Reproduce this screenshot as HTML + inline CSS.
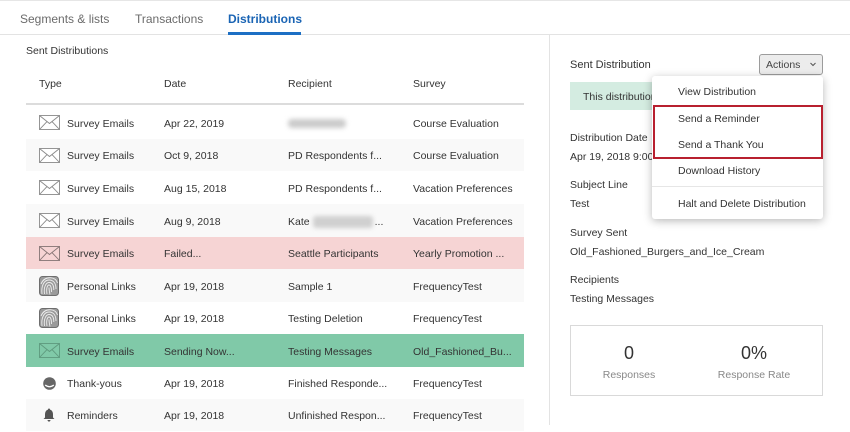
<!DOCTYPE html>
<html>
<head>
<meta charset="utf-8">
<style>
  html,body{margin:0;padding:0;}
  body{width:850px;height:425px;overflow:hidden;background:#fff;position:relative;font-family:"Liberation Sans",Arial,sans-serif;color:#333;font-size:10.5px;}
  .a{position:absolute;white-space:nowrap;}
  .tab{position:absolute;top:11px;height:16px;line-height:16px;font-size:12px;color:#6b6b6b;}
  .row{position:absolute;left:26px;width:498px;}
  .row .c{position:absolute;top:1px;height:100%;display:flex;align-items:center;white-space:nowrap;}
  .row .ic{position:absolute;top:0;height:100%;display:flex;align-items:center;left:11px;width:24px;justify-content:center;}
  .g{background:#f9f9f9;}
  .lbl{position:absolute;left:570px;height:14px;line-height:14px;white-space:nowrap;}
  .dd{position:absolute;left:678px;height:14px;line-height:14px;white-space:nowrap;color:#333;}
</style>
</head>
<body>
<div class="a" style="left:0;top:0;width:850px;height:1px;background:#e6e6e6;"></div>

<div class="tab" style="left:20px;">Segments &amp; lists</div>
<div class="tab" style="left:135px;">Transactions</div>
<div class="tab" style="left:228px;color:#1a64b4;font-weight:bold;">Distributions</div>
<div class="a" style="left:0;top:34px;width:850px;height:1px;background:#e3e3e3;"></div>
<div class="a" style="left:228px;top:32px;width:73px;height:3px;background:#1c6fc4;"></div>

<div class="a" style="left:26px;top:44px;height:14px;line-height:14px;">Sent Distributions</div>
<div class="a" style="left:39px;top:77px;height:14px;line-height:14px;">Type</div>
<div class="a" style="left:164px;top:77px;height:14px;line-height:14px;">Date</div>
<div class="a" style="left:288px;top:77px;height:14px;line-height:14px;">Recipient</div>
<div class="a" style="left:413px;top:77px;height:14px;line-height:14px;">Survey</div>
<div class="a" style="left:26px;top:103px;width:498px;height:2px;background:#dcdcdc;"></div>

<div class="row" style="top:106px;height:33px;">
  <div class="ic"><svg width="21" height="15" viewBox="0 0 21 15"><rect x="0.5" y="0.5" width="20" height="14" fill="#fff" stroke="#8a8a8a" stroke-width="0.9"/><polyline points="0.5,0.5 10.5,8.5 20.5,0.5" fill="none" stroke="#8a8a8a" stroke-width="0.9"/><line x1="0.5" y1="14.5" x2="8" y2="6.6" stroke="#8a8a8a" stroke-width="0.9"/><line x1="20.5" y1="14.5" x2="13" y2="6.6" stroke="#8a8a8a" stroke-width="0.9"/></svg></div>
  <div class="c" style="left:41px;">Survey Emails</div>
  <div class="c" style="left:138px;">Apr 22, 2019</div>
  <div class="c" style="left:262px;"><span style="display:inline-block;width:58px;height:9px;background:#cbcbcb;filter:blur(2.5px);border-radius:4px;"></span></div>
  <div class="c" style="left:387px;">Course Evaluation</div>
</div>
<div class="row g" style="top:139px;height:32px;">
  <div class="ic"><svg width="21" height="15" viewBox="0 0 21 15"><rect x="0.5" y="0.5" width="20" height="14" fill="#fff" stroke="#8a8a8a" stroke-width="0.9"/><polyline points="0.5,0.5 10.5,8.5 20.5,0.5" fill="none" stroke="#8a8a8a" stroke-width="0.9"/><line x1="0.5" y1="14.5" x2="8" y2="6.6" stroke="#8a8a8a" stroke-width="0.9"/><line x1="20.5" y1="14.5" x2="13" y2="6.6" stroke="#8a8a8a" stroke-width="0.9"/></svg></div>
  <div class="c" style="left:41px;">Survey Emails</div>
  <div class="c" style="left:138px;">Oct 9, 2018</div>
  <div class="c" style="left:262px;">PD Respondents f...</div>
  <div class="c" style="left:387px;">Course Evaluation</div>
</div>
<div class="row" style="top:171px;height:33px;">
  <div class="ic"><svg width="21" height="15" viewBox="0 0 21 15"><rect x="0.5" y="0.5" width="20" height="14" fill="#fff" stroke="#8a8a8a" stroke-width="0.9"/><polyline points="0.5,0.5 10.5,8.5 20.5,0.5" fill="none" stroke="#8a8a8a" stroke-width="0.9"/><line x1="0.5" y1="14.5" x2="8" y2="6.6" stroke="#8a8a8a" stroke-width="0.9"/><line x1="20.5" y1="14.5" x2="13" y2="6.6" stroke="#8a8a8a" stroke-width="0.9"/></svg></div>
  <div class="c" style="left:41px;">Survey Emails</div>
  <div class="c" style="left:138px;">Aug 15, 2018</div>
  <div class="c" style="left:262px;">PD Respondents f...</div>
  <div class="c" style="left:387px;">Vacation Preferences</div>
</div>
<div class="row g" style="top:204px;height:33px;">
  <div class="ic"><svg width="21" height="15" viewBox="0 0 21 15"><rect x="0.5" y="0.5" width="20" height="14" fill="#fff" stroke="#8a8a8a" stroke-width="0.9"/><polyline points="0.5,0.5 10.5,8.5 20.5,0.5" fill="none" stroke="#8a8a8a" stroke-width="0.9"/><line x1="0.5" y1="14.5" x2="8" y2="6.6" stroke="#8a8a8a" stroke-width="0.9"/><line x1="20.5" y1="14.5" x2="13" y2="6.6" stroke="#8a8a8a" stroke-width="0.9"/></svg></div>
  <div class="c" style="left:41px;">Survey Emails</div>
  <div class="c" style="left:138px;">Aug 9, 2018</div>
  <div class="c" style="left:262px;">Kate<span style="display:inline-block;width:60px;height:12px;background:#d0d0d0;filter:blur(2px);margin:0 2px 0 3px;border-radius:3px;"></span>...</div>
  <div class="c" style="left:387px;">Vacation Preferences</div>
</div>
<div class="row" style="top:237px;height:32px;background:#f6d4d4;">
  <div class="ic"><svg width="21" height="15" viewBox="0 0 21 15"><rect x="0.5" y="0.5" width="20" height="14" fill="none" stroke="#867575" stroke-width="0.9"/><polyline points="0.5,0.5 10.5,8.5 20.5,0.5" fill="none" stroke="#867575" stroke-width="0.9"/><line x1="0.5" y1="14.5" x2="8" y2="6.6" stroke="#867575" stroke-width="0.9"/><line x1="20.5" y1="14.5" x2="13" y2="6.6" stroke="#867575" stroke-width="0.9"/></svg></div>
  <div class="c" style="left:41px;">Survey Emails</div>
  <div class="c" style="left:138px;">Failed...</div>
  <div class="c" style="left:262px;">Seattle Participants</div>
  <div class="c" style="left:387px;">Yearly Promotion ...</div>
</div>
<div class="row g" style="top:269px;height:33px;">
  <div class="ic"><svg width="20" height="20" viewBox="0 0 20 20"><rect x="0.5" y="0.5" width="19" height="19" rx="3" fill="#9a9a9a" stroke="#6e6e6e"/><g fill="none" stroke="#eee" stroke-width="0.9"><path d="M3,18 C2,10 5,4 10,4 C15,4 17,8 17,13"/><path d="M5.5,18 C4.5,11 7,6.5 10,6.5 C13,6.5 14.8,9 14.8,14"/><path d="M8,18 C7,12 8.5,9 10,9 C11.5,9 12.5,11 12.5,16"/><path d="M10,11.5 C10,14 10.5,16 11,18.5"/><path d="M2,8 C4,3 8,1.5 12,1.8 C15,2 17.5,4 18.5,7"/></g></svg></div>
  <div class="c" style="left:41px;">Personal Links</div>
  <div class="c" style="left:138px;">Apr 19, 2018</div>
  <div class="c" style="left:262px;">Sample 1</div>
  <div class="c" style="left:387px;">FrequencyTest</div>
</div>
<div class="row" style="top:302px;height:32px;">
  <div class="ic"><svg width="20" height="20" viewBox="0 0 20 20"><rect x="0.5" y="0.5" width="19" height="19" rx="3" fill="#9a9a9a" stroke="#6e6e6e"/><g fill="none" stroke="#eee" stroke-width="0.9"><path d="M3,18 C2,10 5,4 10,4 C15,4 17,8 17,13"/><path d="M5.5,18 C4.5,11 7,6.5 10,6.5 C13,6.5 14.8,9 14.8,14"/><path d="M8,18 C7,12 8.5,9 10,9 C11.5,9 12.5,11 12.5,16"/><path d="M10,11.5 C10,14 10.5,16 11,18.5"/><path d="M2,8 C4,3 8,1.5 12,1.8 C15,2 17.5,4 18.5,7"/></g></svg></div>
  <div class="c" style="left:41px;">Personal Links</div>
  <div class="c" style="left:138px;">Apr 19, 2018</div>
  <div class="c" style="left:262px;">Testing Deletion</div>
  <div class="c" style="left:387px;">FrequencyTest</div>
</div>
<div class="row" style="top:334px;height:33px;background:#80c9a8;">
  <div class="ic"><svg width="21" height="15" viewBox="0 0 21 15"><rect x="0.5" y="0.5" width="20" height="14" fill="none" stroke="#5e9a7e" stroke-width="0.9"/><polyline points="0.5,0.5 10.5,8.5 20.5,0.5" fill="none" stroke="#5e9a7e" stroke-width="0.9"/><line x1="0.5" y1="14.5" x2="8" y2="6.6" stroke="#5e9a7e" stroke-width="0.9"/><line x1="20.5" y1="14.5" x2="13" y2="6.6" stroke="#5e9a7e" stroke-width="0.9"/></svg></div>
  <div class="c" style="left:41px;">Survey Emails</div>
  <div class="c" style="left:138px;">Sending Now...</div>
  <div class="c" style="left:262px;">Testing Messages</div>
  <div class="c" style="left:387px;">Old_Fashioned_Bu...</div>
</div>
<div class="row" style="top:367px;height:32px;">
  <div class="ic"><svg width="13" height="13" viewBox="0 0 13 13"><circle cx="6.5" cy="6.5" r="6.3" fill="#666"/><path d="M2.2,8 Q6.5,11.5 10.8,8" fill="none" stroke="#fff" stroke-width="1.3"/></svg></div>
  <div class="c" style="left:41px;">Thank-yous</div>
  <div class="c" style="left:138px;">Apr 19, 2018</div>
  <div class="c" style="left:262px;">Finished Responde...</div>
  <div class="c" style="left:387px;">FrequencyTest</div>
</div>
<div class="row g" style="top:399px;height:32px;">
  <div class="ic"><svg width="12" height="14" viewBox="0 0 12 14"><path d="M6,0.5 C6.8,0.5 7,1 7,1.6 C9,2.2 10,4 10,6.5 L10,9.5 L11.5,11 L0.5,11 L2,9.5 L2,6.5 C2,4 3,2.2 5,1.6 C5,1 5.2,0.5 6,0.5 Z" fill="#555"/><path d="M4.5,12 L7.5,12 C7.5,13 6.8,13.6 6,13.6 C5.2,13.6 4.5,13 4.5,12 Z" fill="#555"/></svg></div>
  <div class="c" style="left:41px;">Reminders</div>
  <div class="c" style="left:138px;">Apr 19, 2018</div>
  <div class="c" style="left:262px;">Unfinished Respon...</div>
  <div class="c" style="left:387px;">FrequencyTest</div>
</div>

<div class="a" style="left:549px;top:35px;width:1px;height:390px;background:#e3e3e3;"></div>
<div class="lbl" style="top:58px;font-size:11px;">Sent Distribution</div>
<div class="a" style="left:759px;top:54px;width:62px;height:19px;background:#ececec;border:1px solid #9c9c9c;border-radius:3px;"></div>
<div class="a" style="left:766px;top:58px;height:14px;line-height:14px;color:#444;">Actions</div>
<div class="a" style="left:808px;top:59px;width:10px;height:10px;">
  <svg width="10" height="10" viewBox="0 0 10 10"><polyline points="2.5,4 5,6.5 7.5,4" fill="none" stroke="#555" stroke-width="1"/></svg>
</div>
<div class="a" style="left:570px;top:82px;width:253px;height:28px;background:#d4ece1;"></div>
<div class="a" style="left:583px;top:90px;height:14px;line-height:14px;">This distribution</div>

<div class="lbl" style="top:131px;">Distribution Date</div>
<div class="lbl" style="top:150px;">Apr 19, 2018 9:00 AM</div>
<div class="lbl" style="top:178px;">Subject Line</div>
<div class="lbl" style="top:197px;">Test</div>
<div class="lbl" style="top:226px;">Survey Sent</div>
<div class="lbl" style="top:245px;">Old_Fashioned_Burgers_and_Ice_Cream</div>
<div class="lbl" style="top:273px;">Recipients</div>
<div class="lbl" style="top:292px;">Testing Messages</div>

<div class="a" style="left:570px;top:325px;width:251px;height:69px;border:1px solid #d9d9d9;"></div>
<div class="a" style="left:579px;top:342px;width:100px;text-align:center;font-size:18px;line-height:22px;color:#333;">0</div>
<div class="a" style="left:579px;top:368px;width:100px;text-align:center;line-height:14px;color:#888;">Responses</div>
<div class="a" style="left:704px;top:342px;width:100px;text-align:center;font-size:18px;line-height:22px;color:#333;">0%</div>
<div class="a" style="left:704px;top:368px;width:100px;text-align:center;line-height:14px;color:#888;">Response Rate</div>

<div class="a" style="left:652px;top:76px;width:171px;height:143px;background:#fff;border-radius:3px;box-shadow:0 2px 9px rgba(0,0,0,0.28);"></div>
<div class="dd" style="top:85px;">View Distribution</div>
<div class="dd" style="top:112px;">Send a Reminder</div>
<div class="dd" style="top:138px;">Send a Thank You</div>
<div class="dd" style="top:164px;">Download History</div>
<div class="a" style="left:652px;top:186px;width:171px;height:1px;background:#e6e6e6;"></div>
<div class="dd" style="top:197px;">Halt and Delete Distribution</div>
<div class="a" style="left:653px;top:105px;width:166px;height:50px;border:2px solid #b8202f;"></div>
</body>
</html>
